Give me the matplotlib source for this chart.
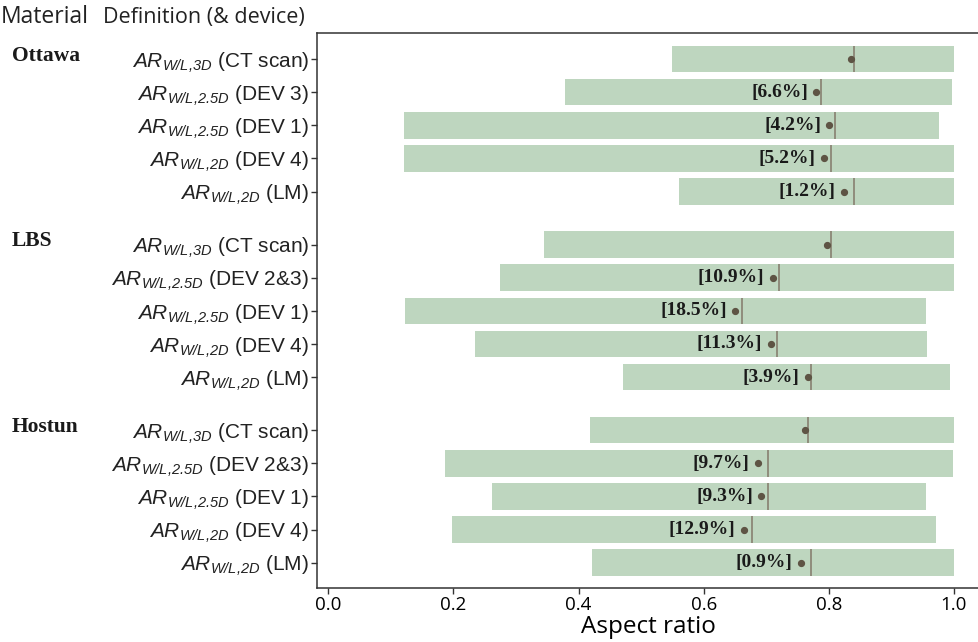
import matplotlib
matplotlib.use("Agg")
import matplotlib.pyplot as plt
import matplotlib.transforms as mtransforms

plt.rcParams['mathtext.fontset'] = 'custom'
plt.rcParams['mathtext.it'] = 'Liberation Sans:italic'
plt.rcParams['mathtext.rm'] = 'Liberation Sans:italic'

# --- data ---
materials = ['Ottawa', 'LBS', 'Hostun']
definitions = [
    r'$AR_{W/L{,}3D}$ (CT scan)', r'$AR_{W/L{,}2.5D}$ (DEV 3)', r'$AR_{W/L{,}2.5D}$ (DEV 1)',
    r'$AR_{W/L{,}2D}$ (DEV 4)', r'$AR_{W/L{,}2D}$ (LM)',
    r'$AR_{W/L{,}3D}$ (CT scan)', r'$AR_{W/L{,}2.5D}$ (DEV 2&3)', r'$AR_{W/L{,}2.5D}$ (DEV 1)',
    r'$AR_{W/L{,}2D}$ (DEV 4)', r'$AR_{W/L{,}2D}$ (LM)',
    r'$AR_{W/L{,}3D}$ (CT scan)', r'$AR_{W/L{,}2.5D}$ (DEV 2&3)', r'$AR_{W/L{,}2.5D}$ (DEV 1)',
    r'$AR_{W/L{,}2D}$ (DEV 4)', r'$AR_{W/L{,}2D}$ (LM)',
]
ar_min = [0.549, 0.379, 0.121, 0.121, 0.560,
          0.345, 0.275, 0.122, 0.235, 0.471,
          0.419, 0.186, 0.261, 0.197, 0.421]
ar_max = [1.000, 0.997, 0.976, 1.000, 1.000,
          1.000, 1.000, 0.955, 0.957, 0.993,
          1.000, 0.999, 0.955, 0.971, 1.000]
ar_median = [0.841, 0.787, 0.810, 0.803, 0.841,
             0.804, 0.720, 0.662, 0.717, 0.772,
             0.766, 0.702, 0.702, 0.677, 0.772]
ar_mean = [0.836, 0.780, 0.801, 0.792, 0.824,
           0.797, 0.710, 0.650, 0.707, 0.766,
           0.762, 0.687, 0.692, 0.664, 0.755]
diff_labels = ['', '[6.6%]', '[4.2%]', '[5.2%]', '[1.2%]',
               '', '[10.9%]', '[18.5%]', '[11.3%]', '[3.9%]',
               '', '[9.7%]', '[9.3%]', '[12.9%]', '[0.9%]']
xticks = [0.0, 0.2, 0.4, 0.6, 0.8, 1.0]

# row positions: 5 rows per material, extra gap between groups
per_group = 5
gap = 0.6
ypos = [i + (i // per_group) * gap for i in range(len(definitions))]

fig = plt.figure(figsize=(9.79, 6.42), dpi=100)
ax = fig.add_axes([0.3241, 0.0846, 0.6759, 0.864])

widths = [hi - lo for lo, hi in zip(ar_min, ar_max)]
ax.barh(ypos, widths, left=ar_min, height=0.8, color='#bed6bf', edgecolor='none')
ax.vlines(ar_median, [y - 0.4 for y in ypos], [y + 0.4 for y in ypos],
          color='#83796a', lw=1.1)
ax.plot(ar_mean, ypos, 'o', ms=4.2, color='#5e5444', ls='none')

for x, y, t in zip(ar_mean, ypos, diff_labels):
    if t:
        ax.annotate(t, (x, y), xytext=(-6, 0), textcoords='offset points',
                    ha='right', va='center', family='Liberation Serif',
                    weight='bold', fontsize=14, color='#1a1a1a')

ax.set_xlim(-0.0176, 1.04)
ax.set_ylim(ypos[-1] + 0.755, -0.785)
ax.set_yticks(ypos)
ax.set_yticklabels(definitions, family='Liberation Sans', fontsize=15, color='#222222')
ax.set_xticks(xticks)
ax.set_xticklabels([f'{v:.1f}' for v in xticks], family='Open Sans', fontsize=13.5)
ax.set_xlabel('Aspect ratio', family='Open Sans', fontsize=17.5, labelpad=1)
ax.tick_params(axis='both', direction='out', length=4, width=1, color='#333333')
ax.tick_params(axis='y', pad=2)
ax.tick_params(axis='x', pad=2)
ax.spines['right'].set_visible(False)
for s in ['left', 'top', 'bottom']:
    ax.spines[s].set_color('#333333')
    ax.spines[s].set_linewidth(1.1)

# material names on the left, aligned with the first row of each group
trans = mtransforms.blended_transform_factory(fig.transFigure, ax.transData)
for g, name in enumerate(materials):
    ax.text(12 / 979, ypos[g * per_group] - 0.1, name, transform=trans,
            ha='left', va='center', family='Liberation Serif', weight='bold',
            fontsize=15.5, color='#1a1a1a')

fig.text(1 / 979, 1 - 17 / 642, 'Material', ha='left', va='center',
         family='Open Sans', fontsize=16.5, color='#222222')
fig.text(103 / 979, 1 - 17 / 642, 'Definition (& device)', ha='left', va='center',
         family='Open Sans', fontsize=15.5, color='#222222')

fig.savefig('out.png', dpi=100)
